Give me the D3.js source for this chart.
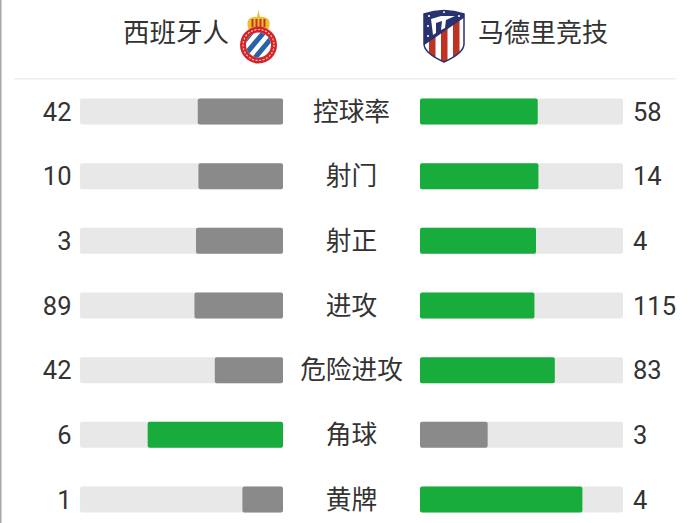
<!DOCTYPE html>
<html><head><meta charset="utf-8">
<script src="https://cdn.jsdelivr.net/npm/d3@7/dist/d3.min.js"></script>
<style>html,body{margin:0;padding:0;background:#fff;overflow:hidden}svg{display:block}
text{font-family:"Noto Sans CJK SC","Noto Sans",sans-serif;fill:#333}
text.num{font-family:Roboto,"Noto Sans",sans-serif}</style></head><body>
<svg id="c" width="690" height="523"></svg>
<script>
const teams = ["西班牙人", "马德里竞技"];
const categories = ["控球率", "射门", "射正", "进攻", "危险进攻", "角球", "黄牌"];
const homeValues = [42, 10, 3, 89, 42, 6, 1];
const awayValues = [58, 14, 4, 115, 83, 3, 4];

const svg = d3.select("#c");
svg.append("rect").attr("x",0).attr("y",0).attr("width",1.5).attr("height",523).attr("fill","#a6a6a6");
svg.append("rect").attr("x",14).attr("y",78).attr("width",662).attr("height",1.5).attr("fill","#eeeeee");

const y = d3.scalePoint().domain(categories).range([111.5, 499.5]);
const share = d3.scaleLinear().domain([0, 1]).range([0, 203]);
const barH = 26, leftEnd = 283, rightStart = 420;
const GREEN = "#18ac3c", GREY = "#8a8a8a", TRACK = "#e8e8e8";

const rows = svg.selectAll("g.row")
  .data(categories.map((c,i)=>({c, h:homeValues[i], a:awayValues[i]})))
  .join("g").attr("class","row").attr("transform",d=>`translate(0,${y(d.c)})`);

function bar(g,x,w,fill){
  g.append("rect").attr("x",x).attr("y",-barH/2).attr("width",w).attr("height",barH).attr("rx",2).attr("fill",fill);
}
rows.each(function(d){
  const g = d3.select(this), tot = d.h+d.a;
  const hw = share(d.h/tot), aw = share(d.a/tot);
  const hc = d.h>d.a ? GREEN : GREY, ac = d.a>d.h ? GREEN : GREY;
  bar(g, leftEnd-share(1), share(1), TRACK);
  bar(g, leftEnd-hw, hw, hc);
  bar(g, rightStart, share(1), TRACK);
  bar(g, rightStart, aw, ac);
  g.append("text").attr("class","num").attr("x",71.5).attr("y",9).attr("text-anchor","end").attr("font-size",25.5).text(d.h);
  g.append("text").attr("class","num").attr("x",633).attr("y",9).attr("font-size",25.5).text(d.a);
  g.append("text").attr("x",351.5).attr("y",9).attr("text-anchor","middle").attr("font-size",25.7).text(d.c);
});

svg.append("text").attr("x",176).attr("y",42).attr("text-anchor","middle").attr("font-size",26.5).text(teams[0]);
svg.append("text").attr("x",543).attr("y",42).attr("text-anchor","middle").attr("font-size",26).text(teams[1]);

// Espanyol crest
const e = svg.append("g").attr("transform","translate(258.5,45)");
e.append("clipPath").attr("id","ce").append("circle").attr("r",12.5);
e.append("path").attr("d","M-10,-16 Q-13,-24 -8,-27 Q-3,-29 -1.5,-28 L0,-35 L1.5,-28 Q3,-29 8,-27 Q13,-24 10,-16 Z").attr("fill","#eebf2c");
[-6,-2,2,6].forEach(x=>e.append("rect").attr("x",x-1).attr("y",-26).attr("width",2).attr("height",8).attr("fill","#c8312c"));
e.append("circle").attr("r",18.5).attr("fill","#d4232a");
e.append("circle").attr("r",12.5).attr("fill","#fff");
const st = e.append("g").attr("clip-path","url(#ce)");
[-16,-6.5,3,12.5].forEach(o=>st.append("rect").attr("x",o).attr("y",-22).attr("width",5).attr("height",44)
  .attr("fill","#2a62a8").attr("transform","rotate(40)"));
e.append("circle").attr("r",15.5).attr("fill","none").attr("stroke","#f3c9a8").attr("stroke-width",1.2).attr("stroke-dasharray","2 1.6");

// Atletico crest
const a = svg.append("g").attr("transform","translate(444,0)");
const shield = "M-20,14 Q0,7 20,14 L20,44 Q20,53 0,62 Q-20,53 -20,44 Z";
a.append("clipPath").attr("id","ca").append("path").attr("d",shield);
a.append("path").attr("d",shield).attr("fill","#fff");
const inner = a.append("g").attr("clip-path","url(#ca)");
[-15,-3,9].forEach(x=>inner.append("rect").attr("x",x).attr("y",10).attr("width",6.5).attr("height",55).attr("fill","#bf3325"));
inner.append("path").attr("d","M-21,8 L21,8 L21,17 L-21,46 Z").attr("fill","#27326f");
inner.append("path").attr("d","M-13,19 L-11,35 L-8,33 L-8,23 L-2,21 L-3,30 L1,28 L2,20 L11,16 L-3,16 Z").attr("fill","#fff");
[[-15,16],[0,12],[15,16],[-16,26],[-16,36]].forEach(p=>a.append("circle").attr("cx",p[0]).attr("cy",p[1]).attr("r",1.1).attr("fill","#fff"));
a.append("path").attr("d",shield).attr("fill","none").attr("stroke","#27326f").attr("stroke-width",1.5);
</script></body></html>
